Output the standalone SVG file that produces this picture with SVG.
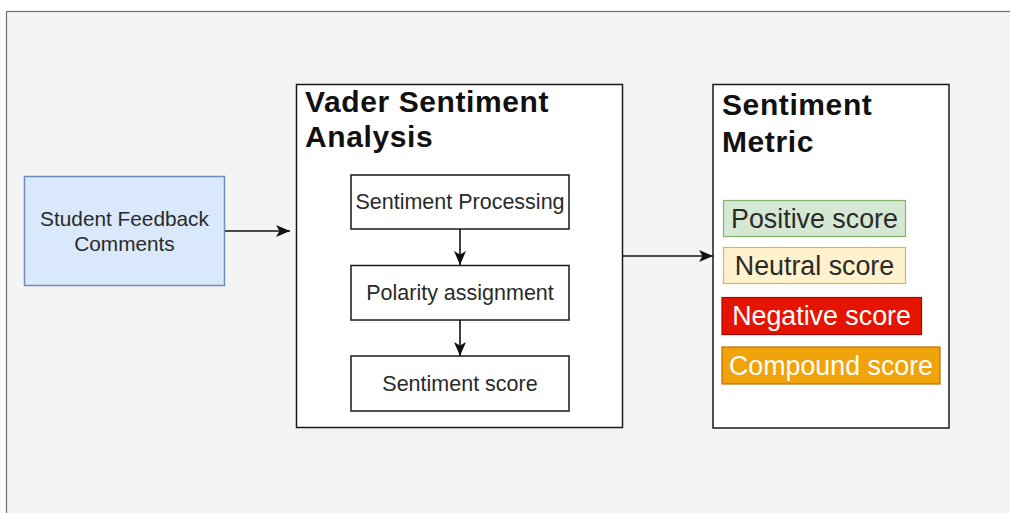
<svg xmlns="http://www.w3.org/2000/svg" width="1010" height="513" viewBox="0 0 1010 513">
  <style>
    .box { fill: #ffffff; stroke: #1a1a1a; stroke-width: 1.5; }
    .title { font-family: "Liberation Sans", Arial, sans-serif; font-weight: bold; font-size: 30px; fill: #111111; letter-spacing: 0.6px; }
    .step { font-family: "Liberation Sans", Arial, sans-serif; font-size: 21.5px; fill: #2a2a2a; text-anchor: middle; }
    .label { font-family: "Liberation Sans", Arial, sans-serif; font-size: 20.8px; fill: #2a2a2a; text-anchor: middle; }
    .score { font-family: "Liberation Sans", Arial, sans-serif; font-size: 26.8px; text-anchor: middle; }
    .edge { fill: none; stroke: #111111; stroke-width: 1.6; }
  </style>
  <defs>
    <!-- classic filled arrowhead with a shallow notch -->
    <marker id="arrow" viewBox="0 0 14 14" refX="14" refY="7" markerWidth="14" markerHeight="14" markerUnits="userSpaceOnUse" orient="auto">
      <path d="M0,1 L14,7 L0,13 L3.5,7 Z" fill="#111111"/>
    </marker>
  </defs>

  <!-- page background -->
  <rect x="0" y="0" width="1010" height="513" fill="#ffffff"/>
  <rect x="6.5" y="11.5" width="1020" height="520" fill="#f4f4f4" stroke="#6e6e6e" stroke-width="1.2"/>

  <!-- input node -->
  <g id="student-feedback">
    <rect x="24.5" y="176.5" width="200" height="109" fill="#dae8fc" stroke="#6c8ebf" stroke-width="1.5"/>
    <text class="label" x="124.5" y="226">Student Feedback</text>
    <text class="label" x="124.5" y="251">Comments</text>
  </g>

  <!-- analysis container -->
  <g id="vader-analysis">
    <rect class="box" x="296.5" y="84.5" width="326" height="343"/>
    <text class="title" x="305" y="112">Vader Sentiment</text>
    <text class="title" x="305" y="147">Analysis</text>
  </g>

  <g id="sentiment-processing">
    <rect class="box" x="351" y="175" width="218" height="54"/>
    <text class="step" x="460" y="209">Sentiment Processing</text>
  </g>

  <g id="polarity-assignment">
    <rect class="box" x="351" y="265.5" width="218" height="54.5"/>
    <text class="step" x="460" y="300">Polarity assignment</text>
  </g>

  <g id="sentiment-score">
    <rect class="box" x="351" y="356" width="218" height="55"/>
    <text class="step" x="460" y="391">Sentiment score</text>
  </g>

  <!-- metric container -->
  <g id="sentiment-metric">
    <rect class="box" x="713" y="84.5" width="236" height="343.5"/>
    <text class="title" x="722" y="115">Sentiment</text>
    <text class="title" x="722" y="152">Metric</text>
  </g>

  <g id="positive-score">
    <rect x="723.5" y="200.5" width="182" height="36" fill="#d5e8d4" stroke="#82b366" stroke-width="1.2"/>
    <text class="score" x="814.5" y="228" fill="#2a2a2a">Positive score</text>
  </g>

  <g id="neutral-score">
    <rect x="723.5" y="247.5" width="182" height="36" fill="#fff2cc" stroke="#d6b656" stroke-width="1.2"/>
    <text class="score" x="814.5" y="275" fill="#2a2a2a">Neutral score</text>
  </g>

  <g id="negative-score">
    <rect x="722" y="297.5" width="199.5" height="37" fill="#e51400" stroke="#b20000" stroke-width="1.2"/>
    <text class="score" x="821.5" y="325" fill="#ffffff">Negative score</text>
  </g>

  <g id="compound-score">
    <rect x="722" y="347" width="218" height="37" fill="#f0a30a" stroke="#bd7000" stroke-width="1.2"/>
    <text class="score" x="831" y="375" fill="#ffffff">Compound score</text>
  </g>

  <!-- connectors -->
  <g id="connectors">
    <path class="edge" d="M225,231 L290,231" marker-end="url(#arrow)"/>
    <path class="edge" d="M460,229 L460,265" marker-end="url(#arrow)"/>
    <path class="edge" d="M460,320 L460,356" marker-end="url(#arrow)"/>
    <path class="edge" d="M623,256 L713,256" marker-end="url(#arrow)"/>
  </g>
</svg>
